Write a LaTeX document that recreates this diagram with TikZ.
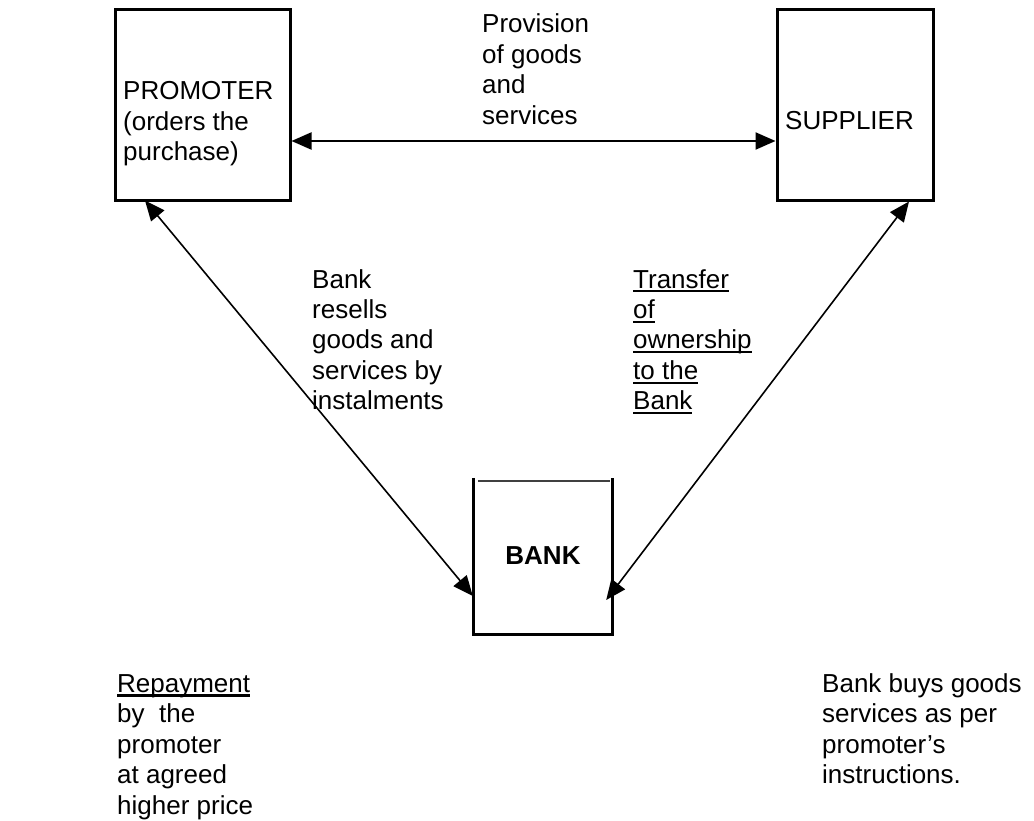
\documentclass[tikz,border=0pt]{standalone}
\usepackage{fontspec}
\setmainfont{Liberation Sans}
\usetikzlibrary{arrows.meta}
% underline drawn as a rule just below the baseline
\newcommand\undl[1]{\leavevmode\setbox0\hbox{#1}\rlap{\rule[-4.5pt]{\wd0}{2.2pt}}\box0}
% left-aligned block whose baseline is that of its first line
\newcommand\lines[1]{\begin{tabular}[t]{@{}l@{}}#1\end{tabular}}
\begin{document}
\begin{tikzpicture}[x=1pt,y=-1pt,
  box/.style={draw, line width=3pt, inner sep=0pt},
  txt/.style={anchor=base west, inner sep=0pt, font=\fontsize{26}{30.5}\selectfont},
  link/.style={line width=1.6pt, {Triangle[length=20pt,width=17pt]}-{Triangle[length=20pt,width=17pt]}},
]
\useasboundingbox (0,0) rectangle (1034,821);

% the three parties
\node[box, minimum width=175pt, minimum height=191pt] (promoter) at (202.5,105.5) {};
\node[box, minimum width=156pt, minimum height=191pt] (supplier) at (855,105.5) {};
\node[inner sep=0pt, minimum width=138pt, minimum height=156pt,
      font=\fontsize{26}{30.5}\selectfont\bfseries] (bank) at (543,556) {BANK};
\draw[line width=2.8pt] (bank.north west) -- (bank.south west) -- (bank.south east) -- (bank.north east);
\draw[line width=1.5pt, black!75] ([xshift=4pt,yshift=-3pt]bank.north west) -- ([xshift=-2pt,yshift=-3pt]bank.north east);

% texts
\node[txt] (promtext) at (123,100) {\lines{PROMOTER\\(orders the\\purchase)}};
\node[txt] (suptext) at (785,130) {SUPPLIER};
\node[txt] (provision) at (482,33) {\lines{Provision\\of goods\\and\\services}};
\node[txt] (resell) at (312,288) {\lines{Bank\\resells\\goods and\\services by\\instalments}};
\node[txt] (transfer) at (633,288) {\lines{\undl{Transfer}\\\undl{of}\\\undl{ownership}\\\undl{to the}\\\undl{Bank}}};
\node[txt] (repay) at (117,692) {\lines{\undl{Repayment}\\by\ \ the\\promoter\\at agreed\\higher price}};
\node[txt] (buys) at (822,692) {\lines{Bank buys goods\\services as per\\promoter’s\\instructions.}};

% flows between the parties
\draw[link, line width=2.2pt] ([yshift=-35.5pt]promoter.east) -- ([yshift=-35.5pt]supplier.west);
\draw[link] ([xshift=-57.5pt,yshift=2pt]promoter.south) -- ([xshift=-1pt,yshift=-40pt]bank.west);
\draw[link] ([xshift=54pt,yshift=1pt]supplier.south) -- ([xshift=-6pt,yshift=-44pt]bank.east);
\end{tikzpicture}
\end{document}
